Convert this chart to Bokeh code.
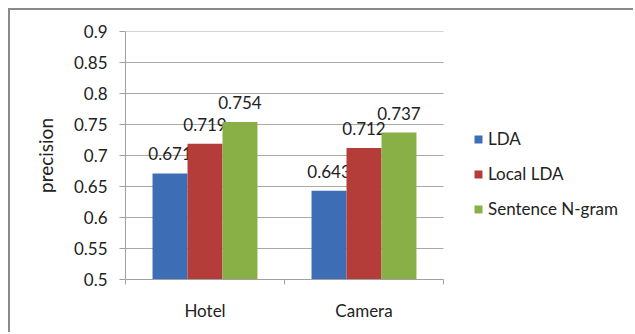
from bokeh.plotting import figure
from bokeh.models import FixedTicker, ColumnDataSource, Legend, LegendItem, Range1d
from bokeh.core.properties import value
from bokeh.embed import file_html
from bokeh.resources import INLINE

categories = ["Hotel", "Camera"]
series = ["LDA", "Local LDA", "Sentence N-gram"]
lda = [0.671, 0.643]
local_lda = [0.719, 0.712]
sentence_ngram = [0.754, 0.737]
y_ticks = [0.5, 0.55, 0.6, 0.65, 0.7, 0.75, 0.8, 0.85, 0.9]
colors = ["#3d6db5", "#b43c39", "#89b046"]

FONT = "Lato"
bar_w = 0.22
n = len(categories)
# plot area spans n category slots over 318px; frame extends to the right for the legend
x_end = n * 510 / 318

p = figure(width=625, height=324, output_backend="svg", toolbar_location=None,
           x_range=Range1d(0, x_end), y_range=Range1d(0.5, 0.9),
           min_border_left=115, min_border_right=0, min_border_top=21, min_border_bottom=55)
p.margin = (8, 0, 0, 8)
p.styles = {"border-top": "2px solid #8a8a8a", "border-left": "2px solid #8a8a8a"}
p.outline_line_color = None
p.background_fill_color = "white"
p.border_fill_color = "white"

# horizontal gridlines limited to the category area
p.segment(x0=0, x1=n, y0=y_ticks, y1=y_ticks, line_color="#a8a8a8", line_width=1)

items = []
for k, (name, vals) in enumerate(zip(series, [lda, local_lda, sentence_ngram])):
    xs = [i + 0.5 + (k - 1) * bar_w for i in range(n)]
    src = ColumnDataSource(dict(x=xs, top=vals, label=[f"{v:.3f}" for v in vals]))
    r = p.vbar(x="x", top="top", bottom=0.5, width=bar_w, source=src,
               fill_color=colors[k], line_color=None)
    p.text(x="x", y="top", text="label", source=src, text_align="center",
           text_baseline="bottom", y_offset=-13, text_font=value(FONT),
           text_font_size="17px", text_color="#222222")
    items.append(LegendItem(label=name, renderers=[r]))

legend = Legend(items=items, location=(348, 60), glyph_width=10, glyph_height=10,
                label_height=20, spacing=14, padding=0, margin=0, label_standoff=5,
                border_line_color=None, background_fill_alpha=0,
                label_text_font=FONT, label_text_font_size="17px", label_text_color="#222222")
p.add_layout(legend, "center")

# y axis
p.yaxis.ticker = FixedTicker(ticks=y_ticks)
p.yaxis.major_label_overrides = {t: f"{t:g}" for t in y_ticks}
p.yaxis.axis_label = "precision"
p.yaxis.axis_label_text_font = FONT
p.yaxis.axis_label_text_font_style = "normal"
p.yaxis.axis_label_text_font_size = "19px"
p.yaxis.axis_label_text_color = "#222222"
p.yaxis.axis_label_standoff = 14
p.yaxis.major_label_text_font = FONT
p.yaxis.major_label_text_font_size = "17px"
p.yaxis.major_label_text_color = "#222222"
p.yaxis.major_label_standoff = 12
p.yaxis.major_tick_out = 6
p.yaxis.major_tick_in = 0
p.yaxis.minor_tick_line_color = None
p.yaxis.axis_line_color = "#a0a0a0"
p.yaxis.major_tick_line_color = "#a0a0a0"

# x axis
p.xaxis.bounds = (0, n)
p.xaxis.ticker = FixedTicker(ticks=[i + 0.5 for i in range(n)], minor_ticks=list(range(n + 1)))
p.xaxis.major_label_overrides = {i + 0.5: c for i, c in enumerate(categories)}
p.xaxis.major_tick_line_color = None
p.xaxis.minor_tick_out = 5
p.xaxis.minor_tick_in = 0
p.xaxis.minor_tick_line_color = "#a0a0a0"
p.xaxis.axis_line_color = "#a0a0a0"
p.xaxis.major_label_text_font = FONT
p.xaxis.major_label_text_font_size = "17px"
p.xaxis.major_label_text_color = "#222222"
p.xaxis.major_label_standoff = 14

p.xgrid.grid_line_color = None
p.ygrid.grid_line_color = None

open("out.html", "w").write(file_html(p, INLINE))
